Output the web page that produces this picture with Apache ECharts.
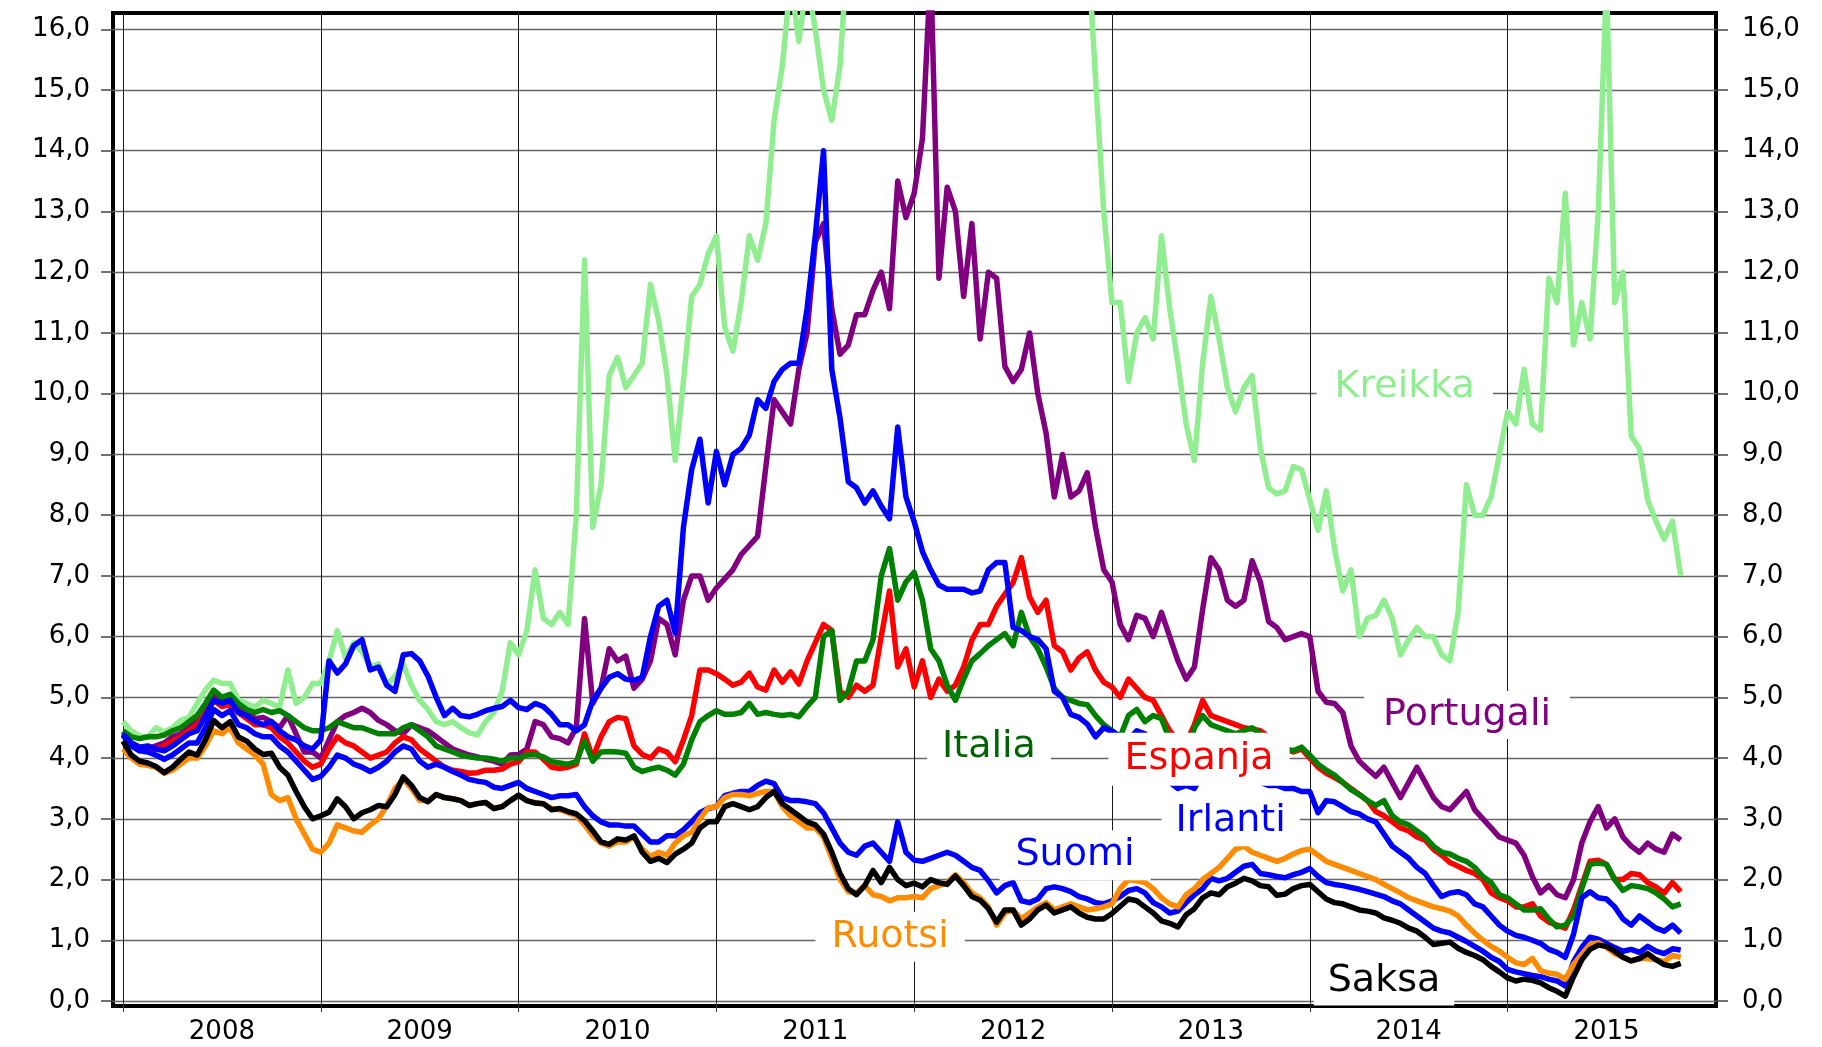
<!DOCTYPE html>
<html>
<head>
<meta charset="utf-8">
<script src="https://cdn.jsdelivr.net/npm/echarts@6/dist/echarts.min.js"></script>
<style>html,body{margin:0;padding:0;background:#fff}#c{width:1822px;height:1047px}</style>
</head>
<body>
<div id="c"></div>
<script>
// ---------- data (semi-monthly observations, 10y government bond yields, %) ----------
const START_YEAR = 2008;
const STEPS_PER_YEAR = 24;           // two observations per month
const yearTicks  = [2008, 2009, 2010, 2011, 2012, 2013, 2014, 2015];
const yearLabels = ['2008', '2009', '2010', '2011', '2012', '2013', '2014', '2015'];
const yTicks = [0,1,2,3,4,5,6,7,8,9,10,11,12,13,14,15,16];

const saksa = [
4.28,4.05,3.95,3.92,3.86,3.76,3.85,3.98,4.10,4.05,4.30,4.62,4.50,4.60,4.35,4.28,4.15,4.06,4.08,3.85,3.72,3.45,3.20,3.00,
3.05,3.11,3.33,3.20,3.00,3.10,3.15,3.22,3.20,3.40,3.69,3.55,3.35,3.28,3.40,3.35,3.33,3.30,3.22,3.25,3.27,3.17,3.20,3.30,
3.39,3.30,3.26,3.25,3.15,3.17,3.12,3.08,2.97,2.80,2.62,2.58,2.67,2.65,2.72,2.45,2.30,2.35,2.28,2.42,2.50,2.60,2.85,2.95,
2.95,3.20,3.25,3.20,3.15,3.20,3.35,3.45,3.25,3.15,3.05,2.95,2.90,2.75,2.45,2.10,1.85,1.75,1.90,2.15,1.95,2.20,2.00,1.90,
1.94,1.88,2.00,1.95,1.92,2.06,1.90,1.72,1.66,1.52,1.30,1.50,1.50,1.25,1.35,1.50,1.58,1.45,1.50,1.55,1.45,1.38,1.35,1.35,
1.44,1.56,1.68,1.65,1.55,1.45,1.32,1.28,1.22,1.42,1.52,1.70,1.78,1.75,1.88,1.94,2.02,1.98,1.90,1.88,1.74,1.76,1.85,1.90,
1.92,1.80,1.68,1.62,1.60,1.55,1.50,1.48,1.45,1.37,1.33,1.28,1.20,1.15,1.05,0.93,0.95,0.97,0.87,0.80,0.75,0.68,0.57,0.48,
0.38,0.33,0.36,0.34,0.30,0.22,0.16,0.08,0.40,0.68,0.85,0.92,0.90,0.82,0.72,0.66,0.70,0.78,0.68,0.60,0.57,0.62];

const ruotsi = [
4.15,4.00,3.90,3.88,3.85,3.75,3.80,3.90,4.00,4.00,4.20,4.45,4.40,4.50,4.25,4.15,4.05,3.90,3.40,3.30,3.35,3.00,2.75,2.50,
2.45,2.60,2.90,2.85,2.80,2.78,2.90,3.00,3.22,3.50,3.65,3.50,3.30,3.30,3.40,3.35,3.33,3.30,3.22,3.25,3.27,3.17,3.20,3.30,
3.38,3.30,3.27,3.25,3.17,3.15,3.10,3.05,2.90,2.72,2.60,2.55,2.62,2.62,2.70,2.50,2.38,2.45,2.40,2.60,2.72,2.78,3.00,3.18,
3.20,3.35,3.40,3.40,3.38,3.42,3.45,3.45,3.20,3.05,2.95,2.85,2.85,2.70,2.35,2.00,1.80,1.78,1.90,1.75,1.72,1.65,1.70,1.70,
1.72,1.70,1.85,1.90,1.95,2.08,1.95,1.78,1.70,1.55,1.25,1.45,1.50,1.35,1.45,1.55,1.62,1.50,1.55,1.60,1.55,1.50,1.52,1.55,
1.60,1.85,2.00,1.98,1.95,1.85,1.70,1.60,1.55,1.75,1.85,2.00,2.10,2.20,2.35,2.50,2.55,2.45,2.40,2.35,2.30,2.35,2.42,2.48,
2.50,2.40,2.30,2.25,2.20,2.15,2.10,2.05,2.00,1.92,1.85,1.78,1.70,1.65,1.60,1.55,1.52,1.48,1.40,1.25,1.12,1.00,0.90,0.82,
0.72,0.63,0.60,0.70,0.50,0.46,0.44,0.36,0.60,0.77,0.93,0.96,0.88,0.78,0.72,0.66,0.70,0.70,0.68,0.65,0.75,0.72];

const suomi = [
4.38,4.20,4.12,4.10,4.05,3.98,4.05,4.15,4.25,4.25,4.50,4.80,4.70,4.78,4.55,4.50,4.40,4.35,4.35,4.20,4.10,3.95,3.80,3.65,
3.70,3.85,4.05,4.00,3.90,3.85,3.78,3.85,3.95,4.10,4.20,4.15,3.95,3.85,3.90,3.85,3.78,3.72,3.65,3.62,3.60,3.52,3.50,3.55,
3.60,3.50,3.45,3.40,3.35,3.38,3.38,3.40,3.20,3.05,2.95,2.90,2.90,2.88,2.88,2.75,2.62,2.62,2.72,2.72,2.82,2.95,3.10,3.17,
3.20,3.38,3.42,3.45,3.45,3.55,3.62,3.58,3.35,3.30,3.30,3.28,3.25,3.10,2.85,2.60,2.45,2.40,2.55,2.60,2.45,2.30,2.95,2.45,
2.32,2.30,2.35,2.40,2.45,2.40,2.30,2.20,2.15,1.98,1.78,1.90,1.95,1.65,1.62,1.68,1.85,1.88,1.85,1.80,1.72,1.68,1.62,1.60,
1.65,1.72,1.82,1.85,1.78,1.62,1.55,1.45,1.48,1.62,1.75,1.85,2.02,1.98,2.02,2.12,2.22,2.25,2.10,2.08,2.05,2.03,2.08,2.12,
2.18,2.05,1.95,1.92,1.90,1.87,1.84,1.80,1.76,1.72,1.65,1.60,1.50,1.40,1.30,1.20,1.15,1.12,1.05,0.98,0.90,0.82,0.72,0.65,
0.52,0.48,0.45,0.42,0.40,0.36,0.33,0.25,0.65,0.88,1.05,1.02,0.95,0.88,0.82,0.85,0.80,0.90,0.82,0.78,0.86,0.84];

const irlanti = [
4.40,4.25,4.18,4.20,4.15,4.12,4.20,4.30,4.40,4.45,4.70,4.95,4.90,4.95,4.75,4.70,4.60,4.55,4.60,4.45,4.35,4.30,4.20,4.15,
4.30,5.60,5.40,5.55,5.85,5.95,5.45,5.50,5.20,5.10,5.70,5.72,5.60,5.35,5.00,4.70,4.82,4.70,4.68,4.72,4.78,4.82,4.85,4.95,
4.83,4.80,4.90,4.85,4.72,4.55,4.55,4.45,4.55,4.95,5.15,5.33,5.39,5.30,5.28,5.33,6.00,6.50,6.60,6.06,7.80,8.75,9.25,8.20,
9.05,8.50,9.00,9.10,9.32,9.90,9.76,10.20,10.40,10.50,10.50,11.40,12.60,14.00,10.40,9.60,8.55,8.45,8.20,8.40,8.15,7.94,9.45,8.30,
7.89,7.40,7.10,6.85,6.78,6.78,6.78,6.72,6.75,7.10,7.22,7.22,6.15,6.10,6.00,5.95,5.80,5.10,5.00,4.72,4.67,4.56,4.35,4.50,
4.44,4.35,4.30,4.45,4.40,4.05,3.85,3.60,3.50,3.55,3.50,3.75,4.00,3.95,3.90,3.85,3.80,3.75,3.60,3.55,3.55,3.50,3.50,3.45,
3.45,3.10,3.30,3.28,3.20,3.12,3.08,3.00,2.95,2.75,2.55,2.45,2.35,2.20,2.10,1.90,1.72,1.78,1.80,1.75,1.60,1.55,1.40,1.25,
1.15,1.08,1.05,1.00,0.95,0.85,0.80,0.72,1.10,1.70,1.80,1.70,1.68,1.55,1.35,1.25,1.40,1.30,1.20,1.15,1.25,1.12];

const portugali = [
4.43,4.25,4.18,4.15,4.20,4.25,4.35,4.40,4.50,4.62,4.85,5.06,4.92,4.95,4.85,4.75,4.65,4.67,4.60,4.50,4.70,4.40,4.10,4.10,
4.00,4.30,4.60,4.70,4.75,4.82,4.75,4.62,4.55,4.45,4.40,4.55,4.50,4.45,4.35,4.25,4.15,4.10,4.05,4.02,3.98,3.95,3.90,4.05,
4.06,4.15,4.60,4.55,4.35,4.32,4.25,4.50,6.30,4.90,5.15,5.80,5.60,5.68,5.15,5.30,5.60,6.30,6.20,5.70,6.60,7.00,7.00,6.60,
6.80,6.95,7.10,7.35,7.50,7.65,8.80,9.90,9.70,9.50,10.40,11.00,12.50,12.80,11.40,10.65,10.80,11.30,11.30,11.70,12.00,11.40,13.50,12.90,
13.30,14.20,17.00,11.90,13.40,13.00,11.60,12.80,10.90,12.00,11.90,10.45,10.20,10.40,11.00,10.00,9.35,8.30,9.00,8.30,8.40,8.70,7.80,7.10,
6.90,6.20,5.95,6.35,6.30,6.00,6.40,6.00,5.60,5.30,5.50,6.45,7.30,7.10,6.60,6.50,6.60,7.25,6.90,6.25,6.15,5.95,6.00,6.05,
6.00,5.10,4.92,4.90,4.75,4.20,3.95,3.82,3.70,3.85,3.60,3.35,3.60,3.85,3.60,3.35,3.20,3.15,3.30,3.45,3.15,3.00,2.85,2.70,
2.65,2.60,2.40,2.05,1.78,1.90,1.75,1.70,2.00,2.60,2.95,3.20,2.85,3.00,2.70,2.55,2.45,2.60,2.50,2.45,2.75,2.65];

const espanja = [
4.38,4.20,4.15,4.12,4.15,4.20,4.28,4.35,4.45,4.55,4.75,4.95,4.85,4.88,4.75,4.65,4.55,4.55,4.50,4.35,4.25,4.10,3.95,3.85,
3.90,4.15,4.35,4.25,4.20,4.10,4.00,4.05,4.10,4.25,4.35,4.30,4.15,4.05,3.95,3.85,3.80,3.78,3.75,3.76,3.80,3.80,3.82,3.90,
3.94,4.10,4.10,3.98,3.85,3.83,3.85,3.90,4.40,4.00,4.35,4.60,4.67,4.65,4.20,4.06,4.00,4.15,4.10,3.94,4.30,4.70,5.45,5.45,
5.39,5.30,5.20,5.25,5.40,5.17,5.12,5.45,5.25,5.42,5.22,5.60,5.90,6.20,6.10,5.10,5.00,5.20,5.10,5.20,6.00,6.75,5.50,5.80,
5.17,5.60,5.00,5.30,5.10,5.20,5.50,5.94,6.20,6.20,6.50,6.70,6.89,7.30,6.65,6.40,6.60,5.85,5.75,5.45,5.65,5.75,5.45,5.25,
5.17,5.00,5.30,5.15,5.00,4.95,4.70,4.45,4.30,4.25,4.55,4.95,4.70,4.65,4.60,4.55,4.50,4.48,4.45,4.35,4.20,4.15,4.10,4.15,
4.00,3.85,3.75,3.68,3.60,3.50,3.40,3.30,3.12,3.05,2.95,2.85,2.80,2.70,2.65,2.50,2.40,2.28,2.22,2.15,2.10,2.00,1.78,1.70,
1.65,1.55,1.55,1.60,1.40,1.30,1.25,1.20,1.50,1.90,2.30,2.32,2.25,2.00,2.00,2.10,2.08,1.95,1.88,1.78,1.95,1.80];

const italia = [
4.45,4.35,4.32,4.35,4.35,4.38,4.45,4.50,4.60,4.70,4.90,5.12,5.00,5.05,4.90,4.80,4.75,4.80,4.75,4.78,4.70,4.60,4.50,4.45,
4.45,4.50,4.60,4.55,4.50,4.50,4.45,4.40,4.40,4.40,4.50,4.55,4.45,4.35,4.20,4.15,4.10,4.05,4.02,4.00,4.00,3.98,3.95,4.00,
4.00,4.05,4.06,4.02,3.94,3.92,3.90,3.94,4.28,3.95,4.10,4.11,4.10,4.08,3.85,3.78,3.82,3.85,3.80,3.72,3.90,4.30,4.60,4.70,
4.78,4.72,4.72,4.75,4.90,4.72,4.75,4.72,4.70,4.72,4.68,4.85,5.00,6.00,6.10,4.95,5.10,5.60,5.60,5.95,7.00,7.45,6.60,6.90,
7.06,6.60,5.80,5.60,5.20,4.95,5.30,5.60,5.72,5.85,5.95,6.05,5.85,6.40,6.00,5.80,5.50,5.15,5.00,4.95,4.90,4.88,4.70,4.55,
4.45,4.35,4.70,4.80,4.60,4.70,4.65,4.30,4.10,4.00,4.50,4.70,4.55,4.50,4.45,4.40,4.45,4.50,4.40,4.30,4.20,4.15,4.12,4.18,
4.05,3.90,3.80,3.72,3.60,3.48,3.40,3.30,3.22,3.30,3.05,2.95,2.90,2.80,2.70,2.55,2.45,2.42,2.35,2.30,2.20,2.05,1.95,1.75,
1.70,1.60,1.50,1.50,1.52,1.35,1.22,1.25,1.40,1.85,2.25,2.27,2.25,2.00,1.82,1.90,1.88,1.85,1.78,1.68,1.55,1.60];

const kreikka = [
4.60,4.45,4.37,4.34,4.50,4.43,4.50,4.62,4.67,4.90,5.12,5.28,5.23,5.23,4.95,4.90,4.84,4.95,4.90,4.84,5.45,4.90,5.00,5.23,
5.23,5.60,6.10,5.65,5.90,5.75,5.50,5.55,5.20,5.35,5.55,5.20,4.95,4.80,4.60,4.55,4.60,4.50,4.42,4.38,4.60,4.75,5.10,5.90,
5.70,6.10,7.10,6.30,6.20,6.40,6.20,8.00,12.20,7.80,8.50,10.30,10.60,10.10,10.30,10.50,11.80,11.20,10.30,8.90,10.20,11.60,11.80,12.30,
12.60,11.10,10.70,11.50,12.60,12.20,12.80,14.50,15.40,16.80,15.80,16.80,16.00,15.00,14.50,15.40,17.50,18.50,20.00,23.00,25.00,28.00,26.00,27.00,
30.00,32.00,33.00,34.00,35.00,37.00,20.00,20.50,21.00,22.00,25.00,28.00,27.00,26.00,25.00,25.50,24.00,22.00,20.00,19.00,18.00,17.50,15.20,13.00,
11.50,11.50,10.20,11.00,11.25,10.90,12.60,11.40,10.50,9.50,8.90,10.50,11.60,10.90,10.10,9.70,10.10,10.30,9.10,8.45,8.35,8.40,8.80,8.75,
8.25,7.75,8.40,7.45,6.75,7.10,6.00,6.30,6.35,6.60,6.30,5.70,5.95,6.15,6.00,6.00,5.70,5.60,6.40,8.50,8.00,8.00,8.30,9.00,
9.70,9.50,10.40,9.50,9.40,11.90,11.50,13.30,10.80,11.50,10.90,13.00,16.80,11.50,12.00,9.30,9.10,8.25,7.90,7.60,7.90,7.00];

// ---------- chart ----------
const FONT = 'DejaVu Sans';
const times = saksa.map((_, i) => START_YEAR + i / STEPS_PER_YEAR);

const seriesDefs = [
  { name: 'Kreikka',   data: kreikka,   color: '#90ee90', text: '#90ee90', at: [2014.48, 10.10], pad: [4, 18, 4, 18] },
  { name: 'Portugali', data: portugali, color: '#800080', text: '#800080', at: [2014.795, 4.71], pad: [4, 19, 4, 19] },
  { name: 'Espanja',   data: espanja,   color: '#ff0000', text: '#ff0000', at: [2013.44, 3.98],  pad: [7, 16, 6, 16] },
  { name: 'Italia',    data: italia,    color: '#008000', text: '#006400', at: [2012.378, 4.18], pad: [5, 15, 5, 15] },
  { name: 'Irlanti',   data: irlanti,   color: '#0000ff', text: '#0000ff', at: [2013.60, 2.96],  pad: [5, 14, 5, 14] },
  { name: 'Suomi',     data: suomi,     color: '#0000ff', text: '#0000ff', at: [2012.813, 2.40], pad: [5, 16, 5, 16] },
  { name: 'Ruotsi',    data: ruotsi,    color: '#ff8c00', text: '#ff8c00', at: [2011.878, 1.06], pad: [5, 16, 5, 16] },
  { name: 'Saksa',     data: saksa,     color: '#000000', text: '#000000', at: [2014.375, 0.32], pad: [4, 14, 4, 14] }
];

const fmtY = v => Number(v).toFixed(1).replace('.', ',');

const yAxisBase = {
  type: 'value',
  min: -0.082,
  max: 16.268,
  axisLine: { show: false },
  axisTick: { show: true, customValues: yTicks, length: 12, inside: false, lineStyle: { color: '#444', width: 1.5 } },
  axisLabel: { customValues: yTicks, formatter: fmtY, fontFamily: FONT, fontSize: 26, color: '#000' }
};

const option = {
  animation: false,
  backgroundColor: '#fff',
  grid: { left: 113, top: 13, width: 1603, height: 993, show: true, borderColor: '#000', borderWidth: 4, backgroundColor: 'transparent', containLabel: false },
  xAxis: {
    type: 'value',
    min: 2007.9494,
    max: 2016.0536,
    axisLine: { show: false },
    axisTick: { show: true, customValues: yearTicks, length: 11, lineStyle: { color: '#333', width: 1 } },
    axisLabel: {
      customValues: yearTicks.map(y => y + 0.5),
      formatter: v => yearLabels[yearTicks.indexOf(Math.floor(v))] || '',
      fontFamily: FONT, fontSize: 26, color: '#000', margin: 13
    },
    splitLine: { show: true, lineStyle: { color: '#1a1a1a', width: 1 } }
  },
  yAxis: [
    Object.assign({}, yAxisBase, {
      position: 'left',
      axisLabel: Object.assign({}, yAxisBase.axisLabel, { margin: 23 }),
      splitLine: { show: true, lineStyle: { color: '#666', width: 1.4 } }
    }),
    Object.assign({}, yAxisBase, {
      position: 'right',
      axisLabel: Object.assign({}, yAxisBase.axisLabel, { margin: 26 }),
      splitLine: { show: false }
    })
  ],
  series: seriesDefs.map(s => ({
    name: s.name,
    type: 'line',
    yAxisIndex: 0,
    data: s.data.map((v, i) => [times[i], v]),
    showSymbol: false,
    symbol: 'none',
    clip: true,
    lineStyle: { color: s.color, width: 5.5, join: 'round' },
    itemStyle: { color: s.color },
    emphasis: { disabled: true },
    markPoint: {
      silent: true,
      z: 10,
      symbol: 'rect',
      symbolSize: 1,
      itemStyle: { color: 'rgba(0,0,0,0)' },
      label: {
        show: true,
        position: 'inside',
        formatter: s.name,
        fontFamily: FONT,
        fontSize: 38,
        lineHeight: 40,
        color: s.text,
        backgroundColor: '#fff',
        padding: s.pad
      },
      data: [{ coord: s.at, value: s.name }]
    }
  }))
};

const chart = echarts.init(document.getElementById('c'), null, { renderer: 'canvas', width: 1822, height: 1047 });
chart.setOption(option);
</script>
</body>
</html>
